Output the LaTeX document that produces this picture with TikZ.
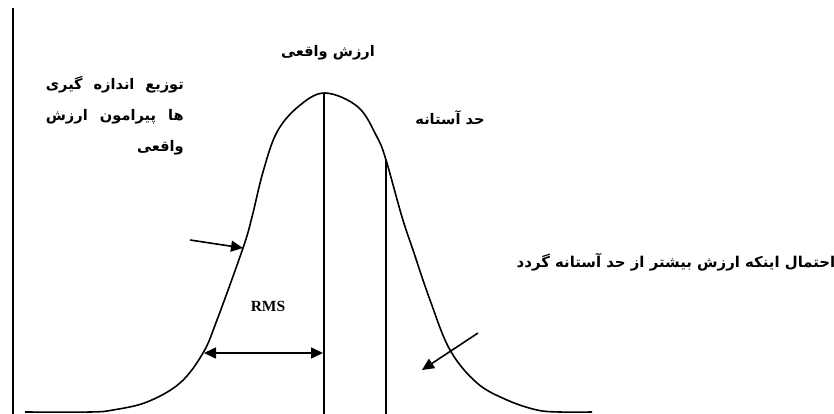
\documentclass[tikz,border=0pt]{standalone}
\usepackage{fontspec}
\usetikzlibrary{arrows.meta}
\TeXXeTstate=1
\newfontfamily\arabicfont[Script=Arabic]{DejaVu Sans}
\newfontfamily\rmsfont{Liberation Serif}
\begin{document}
\begin{tikzpicture}[x=1pt,y=-1pt,
  ln/.style={line width=1.6pt},
  arr/.style={line width=1.6pt,-{Triangle[length=12pt,width=11pt]}},
  fa/.style={inner sep=0pt,font=\arabicfont\bfseries\fontsize{14.6}{17}\selectfont},
  fabig/.style={inner sep=0pt,font=\arabicfont\bfseries\fontsize{14.9}{17}\selectfont}]
\useasboundingbox (0,0) rectangle (834,414);
% axis
\coordinate (axTop) at (13,8);
\coordinate (axBot) at (13,414);
\draw[ln] (axTop) -- (axBot);
% bell curve
\draw[ln] plot[smooth,tension=0.6] coordinates {(25,412) (90,412) (113,410) (147,402) (180,383) (203,353) (217,320) (243,248) (252,217) (263,172) (277,132) (299,106) (325,93) (358,107) (377,137) (386,160) (402,217) (413,250) (430,300) (450,350) (477,383) (507,400) (537,410) (560,412) (592,412)};
% vertical lines
\coordinate (peak) at (324,93);
\coordinate (peakBot) at (324,414);
\coordinate (thr) at (386,160);
\coordinate (thrBot) at (386,414);
\draw[ln] (peak) -- (peakBot);
\draw[ln] (thr) -- (thrBot);
% RMS arrow
\coordinate (rmsL) at (204,353);
\coordinate (rmsR) at (323,353);
\draw[line width=1.6pt,{Triangle[length=12pt,width=11pt]}-{Triangle[length=12pt,width=11pt]}] (rmsL) -- (rmsR);
\node[inner sep=0pt,font=\rmsfont\bfseries\fontsize{15.5}{18}\selectfont] (rms) at (268,306) {RMS};
% arrows
\coordinate (a1s) at (190,240);
\coordinate (a1e) at (243,248);
\draw[arr] (a1s) -- (a1e);
\coordinate (a2s) at (478,333);
\coordinate (a2e) at (422,370);
\draw[arr] (a2s) -- (a2e);
% texts
\node[fa] (truev) at (328,53) {\beginR ارزش واقعی\endR};
\node[fa] (thresh) at (450,118) {\beginR حد آستانه\endR};
\node[fabig] (prob) at (676,262) {\beginR احتمال اینکه ارزش بیشتر از حد آستانه گردد\endR};
\node[fa,anchor=east] (dist1) at (184,85) {\hbox to 138pt{\beginR توزیع\hfill اندازه\hfill گیری\endR}};
\node[fa,anchor=east] (dist2) at (184,117) {\hbox to 138pt{\beginR ها\hfill پیرامون\hfill ارزش\endR}};
\node[fa,anchor=east] (dist3) at (184,148) {\beginR واقعی\endR};
\end{tikzpicture}
\end{document}
